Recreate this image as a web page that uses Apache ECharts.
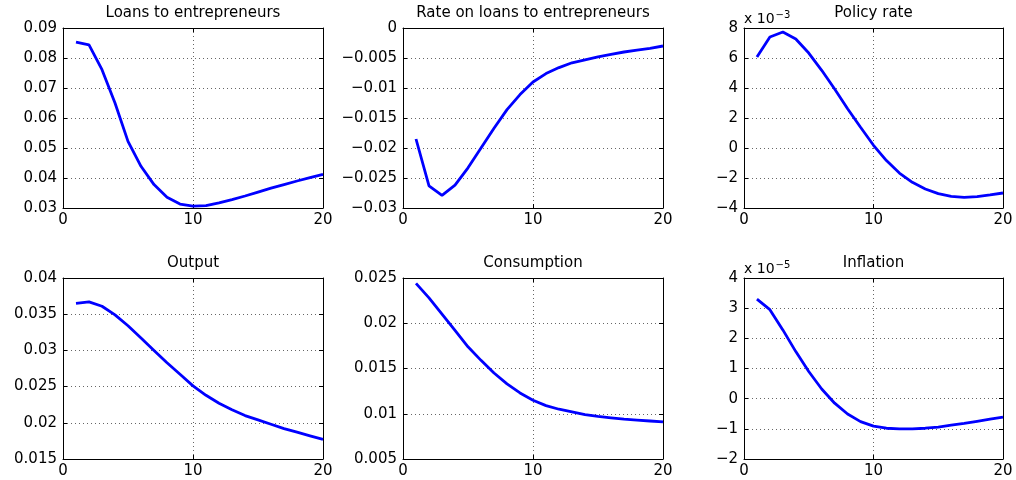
<!DOCTYPE html>
<html><head><meta charset="utf-8">
<script src="https://cdn.jsdelivr.net/npm/echarts@6/dist/echarts.min.js"></script>
<style>html,body{margin:0;padding:0;background:#fff}#c{width:1016px;height:480px}</style>
</head><body><div id="c"></div>
<script>
// ---- data ----
const periods = [1,2,3,4,5,6,7,8,9,10,11,12,13,14,15,16,17,18,19,20];
const titles = ['Loans to entrepreneurs','Rate on loans to entrepreneurs','Policy rate','Output','Consumption','Inflation'];
const loans = [0.0853,0.0844,0.0761,0.0650,0.0522,0.0439,0.0378,0.0336,0.0313,0.0306,0.0308,0.0317,0.0328,0.0340,0.0353,0.0366,0.0378,0.0390,0.0401,0.0412];
const rateLoans = [-0.0185,-0.0263,-0.0279,-0.0262,-0.0233,-0.0200,-0.0167,-0.0136,-0.0111,-0.0090,-0.0076,-0.0066,-0.0058,-0.0053,-0.0048,-0.0044,-0.0040,-0.0037,-0.0034,-0.0030];
const policyRate = [0.00607,0.00740,0.00773,0.00727,0.00633,0.00518,0.00393,0.00262,0.00138,0.00018,-0.00084,-0.00167,-0.00229,-0.00273,-0.00304,-0.00322,-0.00329,-0.00324,-0.00313,-0.00300];
const output = [0.0365,0.0367,0.0361,0.0349,0.0334,0.0317,0.0300,0.0283,0.0267,0.0251,0.0238,0.0227,0.0218,0.0210,0.0204,0.0198,0.0192,0.0187,0.0182,0.0177];
const consumption = [0.0244,0.0228,0.0210,0.0192,0.0174,0.0159,0.0145,0.0133,0.0123,0.0115,0.0109,0.0105,0.0102,0.0099,0.0097,0.00955,0.0094,0.0093,0.0092,0.0091];
const inflation = [3.30e-5,2.95e-5,2.28e-5,1.56e-5,0.90e-5,0.32e-5,-0.15e-5,-0.51e-5,-0.76e-5,-0.91e-5,-0.98e-5,-1.00e-5,-1.00e-5,-0.98e-5,-0.94e-5,-0.88e-5,-0.82e-5,-0.75e-5,-0.68e-5,-0.61e-5];
const seriesList = [loans, rateLoans, policyRate, output, consumption, inflation];
const yMins  = [0.03, -0.03, -0.004, 0.015, 0.005, -2e-5];
const yMaxs  = [0.09, 0, 0.008, 0.04, 0.025, 4e-5];
const ySteps = [0.01, 0.005, 0.002, 0.005, 0.005, 1e-5];
const yExps  = [0, 0, -3, 0, 0, -5];
const xTicks = [0, 10, 20];

// ---- layout ----
const lefts = [63, 403, 744];
const widths = [260, 260, 259];
const tops = [28, 278];
const heights = [180, 181];
const FONT = 'DejaVu Sans';
const minus = s => s.replace(/-/g, '\u2212');

const grids = [], xAxes = [], yAxes = [], series = [], titleArr = [];
seriesList.forEach((vals, i) => {
  const col = i % 3, row = Math.floor(i / 3);
  grids.push({left: lefts[col], top: tops[row], width: widths[col], height: heights[row], containLabel: false});
  const exp = yExps[i];
  const scale = Math.pow(10, exp);
  const fmtY = v => {
    if (exp !== 0) return minus(String(Math.round(v / scale)));
    return minus(String(parseFloat(v.toPrecision(8))));
  };
  const axisLine = {show: true, onZero: false, lineStyle: {color: '#000', width: 1}};
  const tick = {show: true, inside: true, length: 4, lineStyle: {color: '#000'}};
  xAxes.push({gridIndex: i, type: 'value', position: 'bottom', min: xTicks[0], max: xTicks[xTicks.length-1], interval: xTicks[1]-xTicks[0],
    axisLine, axisTick: tick,
    axisLabel: {color: '#000', fontFamily: FONT, fontSize: 15, margin: 5},
    splitLine: {show: true, lineStyle: {color: '#666', type: [1, 3], width: 1}}});
  xAxes.push({gridIndex: i, type: 'value', position: 'top', min: xTicks[0], max: xTicks[xTicks.length-1], interval: xTicks[1]-xTicks[0],
    axisLine, axisTick: tick, axisLabel: {show: false}, splitLine: {show: false}});
  const yName = exp !== 0 ? '{a|x 10}{b|' + minus(String(exp)) + '}' : '';
  yAxes.push({gridIndex: i, type: 'value', position: 'left', min: yMins[i], max: yMaxs[i], interval: ySteps[i],
    axisLine, axisTick: tick,
    axisLabel: {color: '#000', fontFamily: FONT, fontSize: 15, margin: 6, formatter: fmtY},
    splitLine: {show: true, lineStyle: {color: '#666', type: [1, 3], width: 1}},
    name: yName, nameLocation: 'end', nameGap: 2,
    nameTextStyle: {align: 'left', verticalAlign: 'bottom', padding: [0, 0, 0, 0],
      rich: {a: {fontFamily: FONT, fontSize: 14, color: '#000', verticalAlign: 'bottom'},
             b: {fontFamily: FONT, fontSize: 10, color: '#000', verticalAlign: 'top', padding: [0, 0, 6, 1]}}}});
  yAxes.push({gridIndex: i, type: 'value', position: 'right', min: yMins[i], max: yMaxs[i], interval: ySteps[i],
    axisLine, axisTick: tick, axisLabel: {show: false}, splitLine: {show: false}});
  series.push({type: 'line', xAxisIndex: 2*i, yAxisIndex: 2*i, showSymbol: false, symbol: 'none',
    lineStyle: {color: '#0000FF', width: 2.8}, animation: false,
    data: periods.map((p, k) => [p, vals[k]])});
  titleArr.push({text: titles[i], left: lefts[col] + widths[col] / 2, textAlign: 'center', top: tops[row] - 22, padding: 0,
    textStyle: {fontFamily: FONT, fontSize: 15, fontWeight: 'normal', color: '#000'}});
});

const chart = echarts.init(document.getElementById('c'), null, {renderer: 'canvas'});
chart.setOption({backgroundColor: '#fff', animation: false, title: titleArr, grid: grids, xAxis: xAxes, yAxis: yAxes, series});
</script></body></html>
